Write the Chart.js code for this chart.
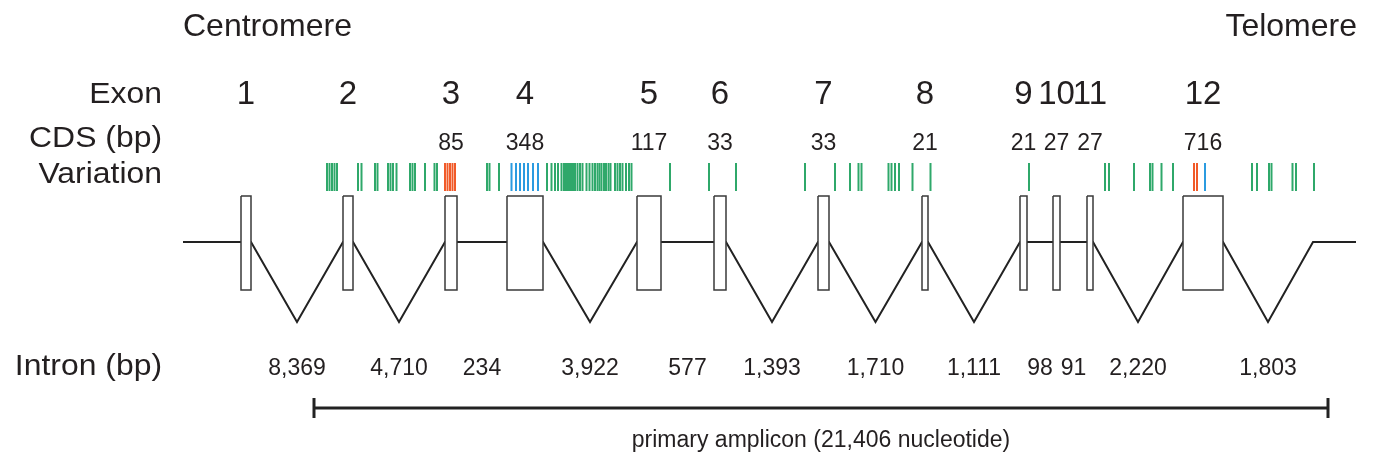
<!DOCTYPE html>
<html>
<head>
<meta charset="utf-8">
<script src="https://cdn.jsdelivr.net/npm/chart.js@4.4.0/dist/chart.umd.min.js"></script>
<style>
html, body { margin: 0; padding: 0; background: #fff; }
</style>
</head>
<body>
<canvas id="gene" width="1374" height="460"></canvas>
<script>
// exon boxes in diagram units (drawing is not to genomic scale)
const exonNames = ['1', '2', '3', '4', '5', '6', '7', '8', '9', '10', '11', '12'];
const exonStart = [241, 343, 445, 507, 637, 714, 818, 922, 1020, 1053, 1087, 1183];
const exonEnd   = [251, 353, 457, 543, 661, 726, 829, 928, 1027, 1060, 1093, 1223];
const cdsBp     = ['', '', '85', '348', '117', '33', '33', '21', '21', '27', '27', '716'];
const intronBp  = [8369, 4710, 234, 3922, 577, 1393, 1710, 1111, 98, 91, 2220, 1803];
const geneStart = 183;
const geneEnd = 1313;
const flankEnd = 1356;

// variation sites
const varGreen = [327, 329.5, 332, 334.5, 337, 358, 361.5, 375, 377.5, 388, 390.5, 393, 396.5,
  410, 412.5, 415, 425, 434.5, 437, 487, 489.5, 499, 547, 551.5, 555, 558, 561.5, 564, 566,
  568, 570, 572, 573.5, 575, 577.5, 580, 582.5, 586.5, 589.5, 592.5, 595, 597.5, 599.5, 601.5,
  604, 606, 608.5, 610.5, 615, 617.5, 620, 622.5, 626, 629, 631.5, 670, 709, 736, 805, 835,
  850, 858.5, 861.5, 888.5, 891.5, 895, 899, 912.5, 930.5, 1029, 1105, 1109, 1134, 1150,
  1152.5, 1161.5, 1173, 1252, 1257, 1269, 1271.5, 1292.5, 1296, 1314];
const varRed = [445, 447.5, 450, 452.5, 455, 1194, 1197];
const varBlue = [511.5, 516, 520, 524, 528, 533, 538, 1205];

// primary amplicon
const ampliconStart = 314;
const ampliconEnd = 1328;
const ampliconLabel = 'primary amplicon (21,406 nucleotide)';

const BOX_TOP = 196, BOX_BOTTOM = 290, LINE_Y = 242, VALLEY_Y = 322;
const VAR_Y = 177, AMP_Y = 408;
const FONT = '"Liberation Sans", Arial, sans-serif';
const INK = '#231f20';

function exonMid(i) { return (exonStart[i] + exonEnd[i]) / 2 }
function intronMid(i) {
    let b = i + 1 < exonStart.length ? exonStart[i + 1] : geneEnd;
    return (exonEnd[i] + b) / 2;
}

// backbone: V for spliced long introns, flat for short ones
let backbone = [{x: geneStart, y: LINE_Y}];
for (let i = 0; i < exonStart.length; i++) {
    backbone.push({x: exonStart[i], y: LINE_Y});
    backbone.push({x: exonEnd[i], y: LINE_Y});
    if (intronBp[i] >= 1000)
        backbone.push({x: intronMid(i), y: VALLEY_Y});
}
backbone.push({x: geneEnd, y: LINE_Y});
backbone.push({x: flankEnd, y: LINE_Y});

let datasets = [];
for (let i = 0; i < exonStart.length; i++) {
    datasets.push({
        type: 'line',
        data: [
            {x: exonStart[i], y: BOX_TOP}, {x: exonEnd[i], y: BOX_TOP},
            {x: exonEnd[i], y: BOX_BOTTOM}, {x: exonStart[i], y: BOX_BOTTOM},
            {x: exonStart[i], y: BOX_TOP}
        ],
        borderColor: '#3a3a3a',
        borderWidth: 1.5,
        backgroundColor: '#ffffff',
        fill: 'shape',
        pointRadius: 0,
        tension: 0
    });
}

function ticks(xs, color) {
    return {
        type: 'scatter',
        data: xs.map(x => ({x: x, y: VAR_Y})),
        pointStyle: 'line',
        rotation: 90,
        pointRadius: 14,
        borderWidth: 2,
        borderColor: color,
        backgroundColor: color
    };
}

datasets.push({
    type: 'line',
    data: backbone,
    borderColor: '#222',
    borderWidth: 2,
    pointRadius: 0,
    fill: false,
    tension: 0
});
datasets.push(ticks(varRed, '#f15a29'));
datasets.push(ticks(varBlue, '#2b9be0'));
datasets.push(ticks(varGreen, '#2fa86a'));
datasets.push({
    type: 'line',
    data: [{x: ampliconStart, y: AMP_Y}, {x: ampliconEnd, y: AMP_Y}],
    borderColor: '#222',
    borderWidth: 3,
    pointStyle: 'line',
    rotation: 90,
    pointRadius: 10,
    pointBorderWidth: 3,
    pointBorderColor: '#222',
    fill: false
});

function text(ctx, str, x, y, size, align, sx) {
    ctx.save();
    ctx.font = size + 'px ' + FONT;
    ctx.fillStyle = INK;
    ctx.textAlign = align;
    ctx.textBaseline = 'alphabetic';
    ctx.translate(x, y);
    ctx.scale(sx || 1, 1);
    ctx.fillText(str, 0, 0);
    ctx.restore();
}

const geneText = {
    id: 'geneText',
    afterDraw(chart) {
        const ctx = chart.ctx;
        const X = v => chart.scales.x.getPixelForValue(v);
        const Y = v => chart.scales.y.getPixelForValue(v);

        text(ctx, 'Centromere', X(geneStart), Y(36), 32, 'left');
        text(ctx, 'Telomere', X(1357), Y(36), 32, 'right');

        text(ctx, 'Exon', X(162), Y(103), 29, 'right', 1.1);
        text(ctx, 'CDS (bp)', X(162), Y(147), 29, 'right', 1.1);
        text(ctx, 'Variation', X(162), Y(183), 29, 'right', 1.1);
        text(ctx, 'Intron (bp)', X(162), Y(375), 29, 'right', 1.1);

        for (let i = 0; i < exonNames.length; i++) {
            text(ctx, exonNames[i], X(exonMid(i)), Y(104), 33, 'center');
            if (cdsBp[i])
                text(ctx, cdsBp[i], X(exonMid(i)), Y(150), 23, 'center');
            text(ctx, intronBp[i].toLocaleString('en-US'), X(intronMid(i)), Y(375), 23, 'center');
        }

        text(ctx, ampliconLabel, X((ampliconStart + ampliconEnd) / 2), Y(447), 23, 'center');
    }
};

new Chart(document.getElementById('gene').getContext('2d'), {
    type: 'line',
    data: {datasets: datasets},
    options: {
        responsive: false,
        animation: false,
        events: [],
        layout: {padding: 0, autoPadding: false},
        plugins: {legend: {display: false}, tooltip: {enabled: false}, title: {display: false}},
        scales: {
            x: {type: 'linear', min: 0, max: 1374, display: false},
            y: {type: 'linear', min: 0, max: 460, reverse: true, display: false}
        }
    },
    plugins: [geneText]
});
</script>
</body>
</html>
